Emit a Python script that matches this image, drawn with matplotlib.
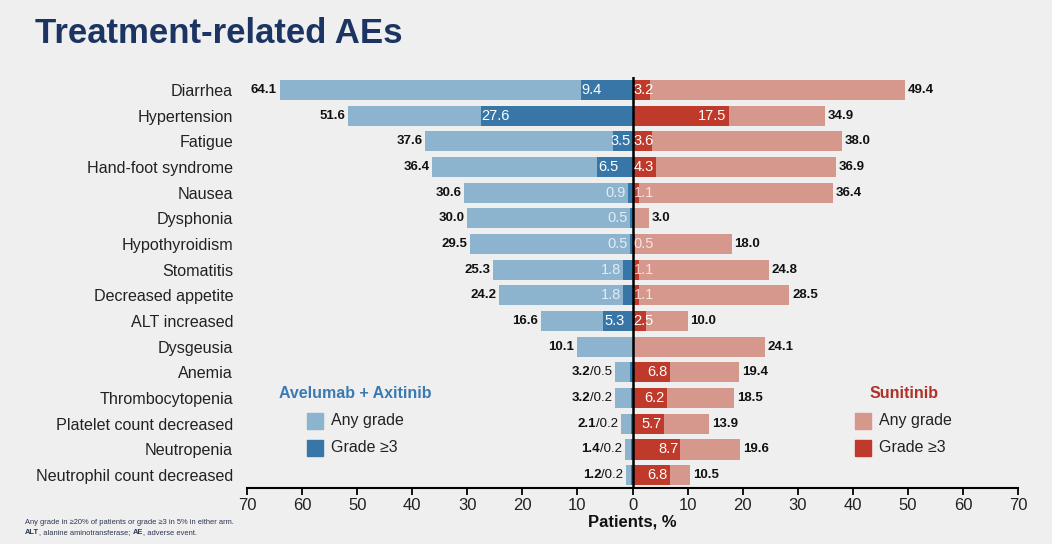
import matplotlib
matplotlib.use('Agg')
import matplotlib.pyplot as plt
from matplotlib.patches import Rectangle
import numpy as np

plt.rcParams['font.family'] = ['Liberation Sans', 'DejaVu Sans']

# data (percent of patients)
events = ['Diarrhea', 'Hypertension', 'Fatigue', 'Hand-foot syndrome', 'Nausea',
          'Dysphonia', 'Hypothyroidism', 'Stomatitis', 'Decreased appetite',
          'ALT increased', 'Dysgeusia', 'Anemia', 'Thrombocytopenia',
          'Platelet count decreased', 'Neutropenia', 'Neutrophil count decreased']
ava_any = [64.1, 51.6, 37.6, 36.4, 30.6, 30.0, 29.5, 25.3, 24.2, 16.6, 10.1, 3.2, 3.2, 2.1, 1.4, 1.2]
ava_g3 = [9.4, 27.6, 3.5, 6.5, 0.9, 0.5, 0.5, 1.8, 1.8, 5.3, 0.0, 0.5, 0.2, 0.2, 0.2, 0.2]
sun_any = [49.4, 34.9, 38.0, 36.9, 36.4, 3.0, 18.0, 24.8, 28.5, 10.0, 24.1, 19.4, 18.5, 13.9, 19.6, 10.5]
sun_g3 = [3.2, 17.5, 3.6, 4.3, 1.1, 0.0, 0.5, 1.1, 1.1, 2.5, 0.0, 6.8, 6.2, 5.7, 8.7, 6.8]
ticks = [-70, -60, -50, -40, -30, -20, -10, 0, 10, 20, 30, 40, 50, 60, 70]

bg = '#efefef'
blue_l, blue_d = '#8cb4ce', '#3876a8'
red_l, red_d = '#d6978d', '#bf3a2a'
navy = '#1c3461'

fig = plt.figure(figsize=(10.52, 5.44), dpi=100, facecolor=bg)
ax = fig.add_axes([0.2348, 0.1029, 0.7329, 0.7555], facecolor=bg)

y = np.arange(len(events))
h = 0.78
ax.barh(y, -np.array(ava_any), height=h, color=blue_l)
ax.barh(y, -np.array(ava_g3), height=h, color=blue_d)
ax.barh(y, sun_any, height=h, color=red_l)
ax.barh(y, sun_g3, height=h, color=red_d)
ax.axvline(0, color='black', lw=1.8)

lab = dict(fontsize=9.5, fontweight='bold', color='#111111', va='center')
ins = dict(fontsize=10.5, color='white', va='center')
for i in range(len(events)):
    a, ag, s, sg = ava_any[i], ava_g3[i], sun_any[i], sun_g3[i]
    # left side
    if i >= 11:
        t = ax.text(-a - 0.5, i, '/%.1f' % ag, ha='right', va='center', fontsize=9.5, color='#111111')
        ax.annotate('%.1f' % a, xy=(0, 0.5), xycoords=t, ha='right', **lab)
    else:
        ax.text(-a - 0.5, i, '%.1f' % a, ha='right', **lab)
        if ag >= 5:
            ax.text(-ag + 0.2, i, '%.1f' % ag, ha='left', **ins)
        elif ag >= 3:
            ax.text(-0.4, i, '%.1f' % ag, ha='right', **ins)
        elif ag > 0:
            ax.text(-ag - 0.3, i, '%.1f' % ag, ha='right', alpha=0.75, **ins)
    # right side
    ax.text(s + 0.5, i, '%.1f' % s, ha='left', **lab)
    if sg >= 5:
        ax.text(sg - 0.4, i, '%.1f' % sg, ha='right', **ins)
    elif sg >= 2:
        ax.text(0.2, i, '%.1f' % sg, ha='left', **ins)
    elif sg > 0:
        ax.text(0.2, i, '%.1f' % sg, ha='left', alpha=0.75, **ins)

ax.set_xlim(-70, 70)
ax.set_ylim(len(events) - 0.5, -0.5)
ax.set_yticks(y)
ax.set_yticklabels(events, fontsize=11.6, color='#222222')
ax.tick_params(axis='y', length=0, pad=10)
ax.set_xticks(ticks)
ax.set_xticklabels([str(abs(t)) for t in ticks], fontsize=12, color='#222222')
ax.tick_params(axis='x', length=5, width=1.3, color='black', pad=2)
for sp in ['top', 'left', 'right']:
    ax.spines[sp].set_visible(False)
ax.spines['bottom'].set_linewidth(1.5)
ax.set_xlabel('Patients, %', fontsize=12, fontweight='bold', color='#111111', labelpad=1)

# title
fig.text(0.033, 0.938, 'Treatment-related AEs', fontsize=25, fontweight='bold', color=navy, va='center')

# legends
fig.text(279 / 1052, 1 - 394 / 544, 'Avelumab + Axitinib', fontsize=11.5, fontweight='bold',
         color='#3a7ab3', va='center')
fig.text(870 / 1052, 1 - 394 / 544, 'Sunitinib', fontsize=11.5, fontweight='bold',
         color='#b0302a', va='center')
for x0, cols in [(307, (blue_l, blue_d)), (855, (red_l, red_d))]:
    for yy, c, name in [(421, cols[0], 'Any grade'), (448, cols[1], 'Grade \u22653')]:
        fig.patches.append(Rectangle((x0 / 1052, 1 - (yy + 8) / 544), 16 / 1052, 16 / 544,
                                     color=c, transform=fig.transFigure))
        fig.text((x0 + 24) / 1052, 1 - yy / 544, name, fontsize=11.5, color='#222222', va='center')

# footnotes
fc = '#2a3550'
fs = 5.4
fig.text(25 / 1052, 1 - 522 / 544, 'Any grade in \u226520% of patients or grade \u22653 in 5% in either arm.',
         fontsize=fs, color=fc, va='center')
t1 = fig.text(25 / 1052, 1 - 533 / 544, 'ALT', fontsize=fs, fontweight='bold', color=fc, va='center')
a2 = fig.add_artist(plt.Annotation(', alanine aminotransferase; ', xy=(1, 0.5), xycoords=t1,
                                   ha='left', va='center', fontsize=fs, color=fc))
a3 = fig.add_artist(plt.Annotation('AE', xy=(1, 0.5), xycoords=a2, ha='left', va='center',
                                   fontsize=fs, fontweight='bold', color=fc))
fig.add_artist(plt.Annotation(', adverse event.', xy=(1, 0.5), xycoords=a3, ha='left', va='center',
                              fontsize=fs, color=fc))

fig.savefig('out.png', dpi=100, facecolor=bg)
